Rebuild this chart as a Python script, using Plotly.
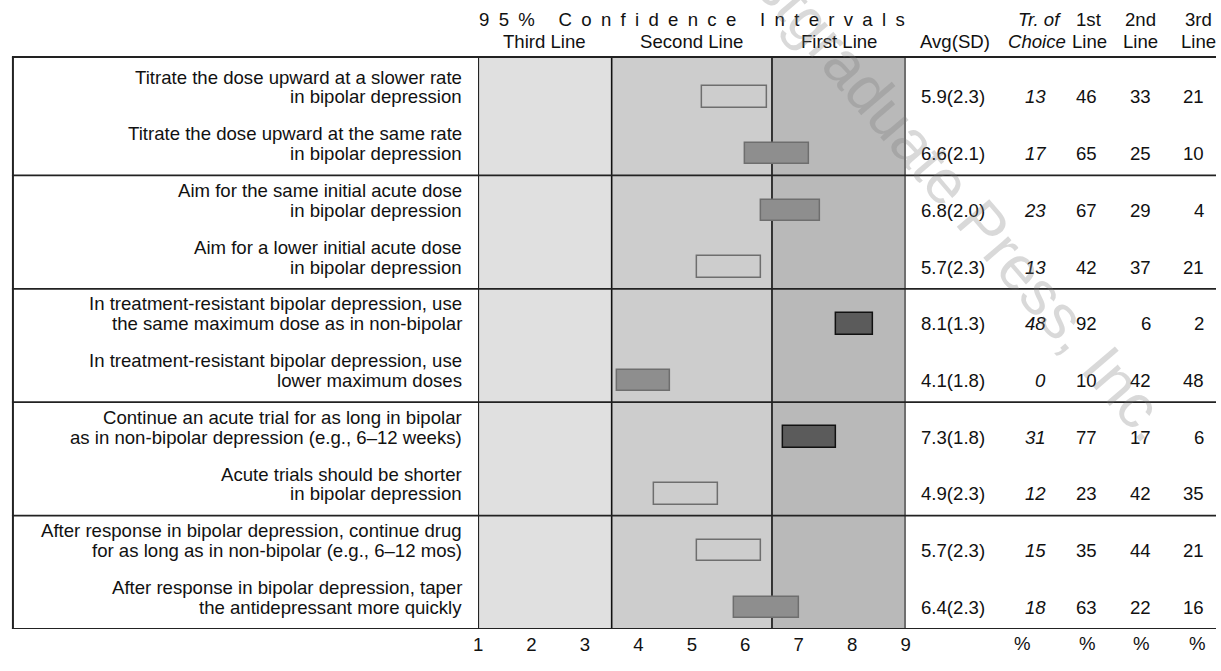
import plotly.graph_objects as go

W, H = 1221, 671

# ---------------- data ----------------
label_line1 = [
    "Titrate the dose upward at a slower rate",
    "Titrate the dose upward at the same rate",
    "Aim for the same initial acute dose",
    "Aim for a lower initial acute dose",
    "In treatment-resistant bipolar depression, use",
    "In treatment-resistant bipolar depression, use",
    "Continue an acute trial for as long in bipolar",
    "Acute trials should be shorter",
    "After response in bipolar depression, continue drug",
    "After response in bipolar depression, taper",
]
label_line2 = [
    "in bipolar depression",
    "in bipolar depression",
    "in bipolar depression",
    "in bipolar depression",
    "the same maximum dose as in non-bipolar",
    "lower maximum doses",
    "as in non-bipolar depression (e.g., 6\u201312 weeks)",
    "in bipolar depression",
    "for as long as in non-bipolar (e.g., 6\u201312 mos)",
    "the antidepressant more quickly",
]
ci_low = [5.2, 6.0, 6.3, 5.1, 7.7, 3.6, 6.7, 4.3, 5.1, 5.8]
ci_high = [6.4, 7.2, 7.4, 6.3, 8.4, 4.6, 7.7, 5.5, 6.3, 7.0]
bar_class = ["open", "gray", "gray", "open", "dark", "gray", "dark", "open", "open", "gray"]
avg = [5.9, 6.6, 6.8, 5.7, 8.1, 4.1, 7.3, 4.9, 5.7, 6.4]
sd = [2.3, 2.1, 2.0, 2.3, 1.3, 1.8, 1.8, 2.3, 2.3, 2.3]
treatment_of_choice = [13, 17, 23, 13, 48, 0, 31, 12, 15, 18]
pct_first = [46, 65, 67, 42, 92, 10, 77, 23, 35, 63]
pct_second = [33, 25, 29, 37, 6, 42, 17, 42, 44, 22]
pct_third = [21, 10, 4, 21, 2, 48, 6, 35, 21, 16]
x_ticks = [1, 2, 3, 4, 5, 6, 7, 8, 9]
zone_names = ["Third Line", "Second Line", "First Line"]
zone_bounds = [1, 3.5, 6.5, 9]
ci_title = "95% Confidence Intervals"
watermark = "Physicians Postgraduate Press, Inc."
group_size = 2

# ---------------- styles ----------------
FONT = "Liberation Sans, Arial, Helvetica, sans-serif"
FS = 18.6
zone_colors = ["#e0e0e0", "#cdcdcd", "#b9b9b9"]
fill_map = {"open": "rgba(0,0,0,0)", "gray": "#8e8e8e", "dark": "#5b5b5b"}
edge_map = {"open": "#6e6e6e", "gray": "#6e6e6e", "dark": "#111111"}

n = len(avg)
def px_x(p):
    return p / W
def px_y(p):
    return 1 - p / H

TOP_PX = 57          # top border of table
ROWS_TOP_PX = 62     # top of first row slot
ROWS_BOT_PX = 629    # bottom border
LEFT_PX = 8          # left border
X1_PX, X9_PX = 477, 908
ROW_OFF = 0.617      # value line within a row slot
LINE_GAP = 0.35      # first label line above value line
BOTTOM_LBL_PX = 643

fig = go.Figure()

rows_y = [i + ROW_OFF for i in range(n)]
fig.add_trace(go.Bar(
    orientation="h",
    base=ci_low,
    x=[h - l for l, h in zip(ci_low, ci_high)],
    y=rows_y,
    width=0.38,
    marker=dict(color=[fill_map[c] for c in bar_class],
                line=dict(color=[edge_map[c] for c in bar_class], width=1.5)),
    hoverinfo="skip",
    showlegend=False,
))

shapes = []
for k in range(3):
    shapes.append(dict(type="rect", xref="x", yref="paper",
                       x0=zone_bounds[k], x1=zone_bounds[k + 1],
                       y0=px_y(ROWS_BOT_PX), y1=px_y(TOP_PX),
                       fillcolor=zone_colors[k], line=dict(width=0), layer="below"))
for k, xb in enumerate(zone_bounds):
    w = 2 if k in (0, len(zone_bounds) - 1) else 1.6
    shapes.append(dict(type="line", xref="x", yref="paper", x0=xb, x1=xb,
                       y0=px_y(ROWS_BOT_PX), y1=px_y(TOP_PX),
                       line=dict(color="#111111", width=w), layer="below"))
shapes.append(dict(type="line", xref="paper", yref="paper", x0=px_x(LEFT_PX - 1), x1=1,
                   y0=px_y(TOP_PX), y1=px_y(TOP_PX), line=dict(color="#222222", width=2)))
for g in range(group_size, n + 1, group_size):
    shapes.append(dict(type="line", xref="paper", yref="y", x0=px_x(LEFT_PX - 1), x1=1,
                       y0=g, y1=g, line=dict(color="#222222", width=1.8 if g < n else 2.2)))
shapes.append(dict(type="line", xref="paper", yref="paper", x0=px_x(LEFT_PX), x1=px_x(LEFT_PX),
                   y0=px_y(ROWS_BOT_PX), y1=px_y(TOP_PX), line=dict(color="#222222", width=2)))

ann = []
def add_text(x, y, text, xref="paper", yref="paper", xanchor="center", italic=False):
    ann.append(dict(x=x, y=y, xref=xref, yref=yref, text=text, showarrow=False,
                    xanchor=xanchor, yanchor="middle",
                    font=dict(family=FONT, size=FS, color="#111111",
                              style="italic" if italic else "normal")))

for i in range(n):
    add_text(px_x(463), rows_y[i] - LINE_GAP, label_line1[i], yref="y", xanchor="right")
    add_text(px_x(463), rows_y[i], label_line2[i], yref="y", xanchor="right")
    add_text(px_x(922), rows_y[i], f"{avg[i]:.1f}({sd[i]:.1f})", yref="y", xanchor="left")
    add_text(px_x(1052), rows_y[i], str(treatment_of_choice[i]), yref="y", xanchor="right", italic=True)
    add_text(px_x(1103), rows_y[i], str(pct_first[i]), yref="y", xanchor="right")
    add_text(px_x(1157), rows_y[i], str(pct_second[i]), yref="y", xanchor="right")
    add_text(px_x(1211), rows_y[i], str(pct_third[i]), yref="y", xanchor="right")

spaced = "\u2002 \u2002".join("\u2002".join(w) for w in ci_title.split(" "))
add_text((zone_bounds[0] + zone_bounds[-1]) / 2, px_y(19), spaced, xref="x")
for k in range(3):
    add_text((zone_bounds[k] + zone_bounds[k + 1]) / 2, px_y(41), zone_names[k], xref="x")
add_text(px_x(921), px_y(41), "Avg(SD)", xanchor="left")
add_text(px_x(1043), px_y(19), "Tr. of", italic=True)
add_text(px_x(1041), px_y(41), "Choice", italic=True)
for cx, t in [(1093, "1st"), (1145, "2nd"), (1203, "3rd")]:
    add_text(px_x(cx), px_y(19), t)
    add_text(px_x(cx), px_y(41), "Line")
for cx in [1026, 1091, 1146, 1202]:
    add_text(px_x(cx), px_y(BOTTOM_LBL_PX), "%")

# faint diagonal watermark
ann.append(dict(x=px_x(840), y=px_y(54), xref="paper", yref="paper", text=watermark,
                showarrow=False, xanchor="center", yanchor="middle", textangle=49.5,
                font=dict(family=FONT, size=62, color="rgba(120,120,120,0.28)")))

fig.update_layout(
    width=W, height=H,
    margin=dict(l=0, r=0, t=0, b=0),
    paper_bgcolor="white", plot_bgcolor="rgba(0,0,0,0)",
    shapes=shapes, annotations=ann,
    bargap=0,
    xaxis=dict(domain=[px_x(X1_PX), px_x(X9_PX)], range=[1, 9],
               tickvals=x_ticks, ticktext=[str(t) for t in x_ticks],
               showgrid=False, zeroline=False, showline=False, ticks="",
               tickfont=dict(family=FONT, size=FS, color="#111111"),
               ticklabelstandoff=2, fixedrange=True),
    yaxis=dict(domain=[px_y(ROWS_BOT_PX), px_y(ROWS_TOP_PX)], range=[n, 0],
               showgrid=False, zeroline=False, showline=False, showticklabels=False,
               fixedrange=True),
    font=dict(family=FONT, size=FS, color="#111111"),
)

fig.write_html("out.html", config={"displayModeBar": False},
               post_script="document.body.style.margin='0';document.body.style.overflow='hidden';")
